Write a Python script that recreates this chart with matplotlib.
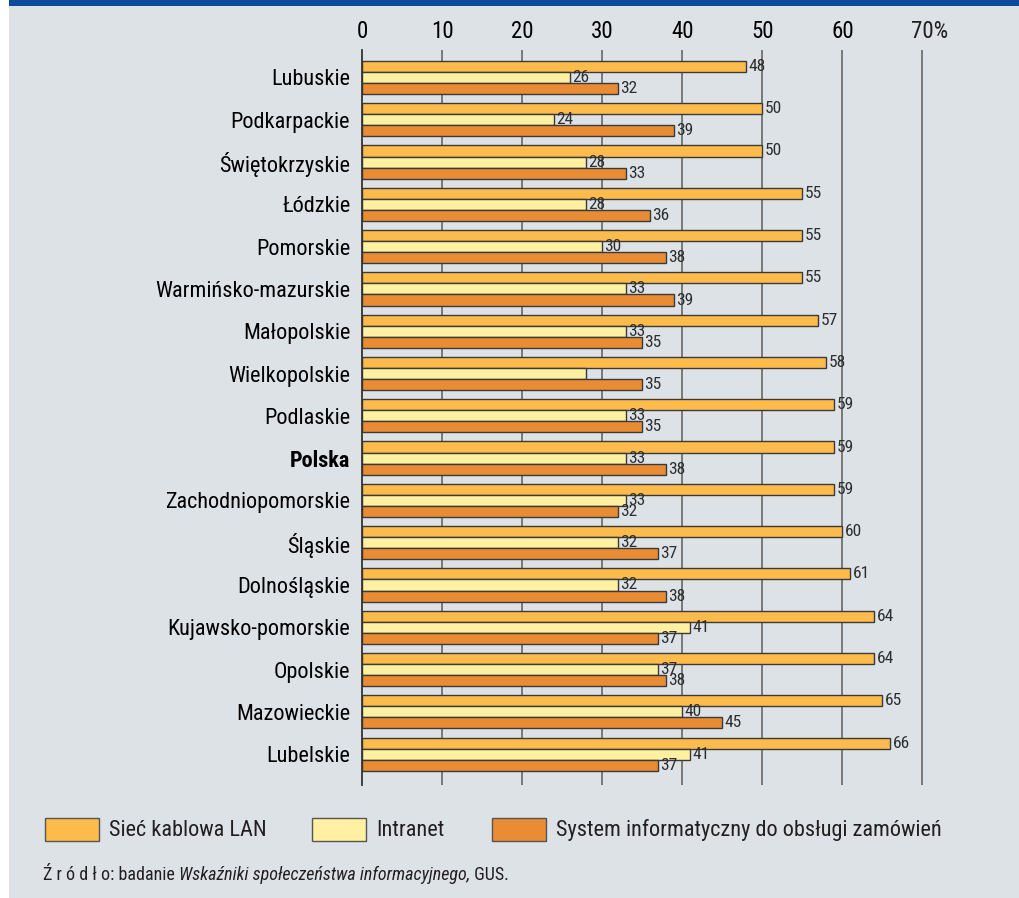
import matplotlib
matplotlib.use('Agg')
import matplotlib.pyplot as plt
import matplotlib.transforms as mtransforms
from matplotlib.patches import Rectangle
from matplotlib import font_manager

# data
regions = ['Lubuskie', 'Podkarpackie', 'Świętokrzyskie', 'Łódzkie', 'Pomorskie',
           'Warmińsko-mazurskie', 'Małopolskie', 'Wielkopolskie', 'Podlaskie', 'Polska',
           'Zachodniopomorskie', 'Śląskie', 'Dolnośląskie', 'Kujawsko-pomorskie',
           'Opolskie', 'Mazowieckie', 'Lubelskie']
lan = [48, 50, 50, 55, 55, 55, 57, 58, 59, 59, 59, 60, 61, 64, 64, 65, 66]
intranet = [26, 24, 28, 28, 30, 33, 33, 28, 33, 33, 33, 32, 32, 41, 37, 40, 41]
system = [32, 39, 33, 36, 38, 39, 35, 35, 35, 38, 32, 37, 38, 37, 38, 45, 37]
intranet_labels = [str(v) for v in intranet]
intranet_labels[7] = ''   # no label printed for Wielkopolskie
series_names = ['Sieć kablowa LAN', 'Intranet', 'System informatyczny do obsługi zamówień']
xticks = [0, 10, 20, 30, 40, 50, 60, 70]
xticklabels = ['0', '10', '20', '30', '40', '50', '60', '70%']

colors = ['#fdbb4b', '#fff0a2', '#e98c33']
bg = '#dde2e7'

# look for a condensed face (the original uses a narrow grotesque)
fam, stretch = 'Liberation Sans', 'normal'
found = {}
for f in font_manager.fontManager.ttflist:
    fn = f.fname.lower()
    if 'condensed' in fn or 'narrow' in fn or str(f.stretch) in ('condensed', 'semi-condensed'):
        found.setdefault(f.name, f.stretch)
for pref in ['Roboto Condensed', 'Liberation Sans Narrow', 'DejaVu Sans', 'Open Sans Condensed',
             'Open Sans', 'Noto Sans']:
    if pref in found:
        fam, stretch = pref, found[pref]
        break
else:
    if found:
        fam, stretch = list(found.items())[0]
plt.rcParams['font.family'] = [fam, 'DejaVu Sans']
plt.rcParams['font.stretch'] = stretch
plt.rcParams['text.color'] = '#231f20'

W, H = 1019, 898
fig = plt.figure(figsize=(W / 100, H / 100), dpi=100)
fig.patch.set_facecolor('white')
# grey panel and blue band
fig.patches.append(Rectangle((9 / W, 0), 1 - 9 / W, 1 - 6 / H, transform=fig.transFigure,
                             facecolor=bg, edgecolor='none', zorder=-10))
fig.patches.append(Rectangle((9 / W, 1 - 6 / H), 1 - 9 / W, 6 / H, transform=fig.transFigure,
                             facecolor='#0d4a9b', edgecolor='none', zorder=-10))

ax = fig.add_axes([362 / W, 1 - 785 / H, 562 / W, 735 / H])
ax.set_facecolor('none')

bh = 0.262
ys = list(range(len(regions)))
for k, (vals, labs) in enumerate([(lan, [str(v) for v in lan]), (intranet, intranet_labels),
                                  (system, [str(v) for v in system])]):
    pos = [y + (k - 1) * bh for y in ys]
    ax.barh(pos, vals, height=bh, color=colors[k], edgecolor='#3a3a3a', linewidth=1.0, zorder=3)
    for p, v, t in zip(pos, vals, labs):
        ax.text(v + 0.3, p, t, fontsize=12.5, ha='left', va='center', color='#2e2e2e', zorder=4)

ax.set_ylim(len(regions) - 1 + 0.73, -0.65)
ax.set_xlim(0, 70.2)
ax.set_yticks(ys)
ax.set_yticklabels(regions, fontsize=16)
for lab in ax.get_yticklabels():
    if lab.get_text() == 'Polska':
        lab.set_fontweight('bold')
ax.xaxis.tick_top()
ax.set_xticks(xticks[:-1])
ax.set_xticklabels(xticklabels[:-1], fontsize=16.5)
ax.tick_params(axis='y', length=0, pad=8.5)
ax.tick_params(axis='x', length=0, pad=5)
for x in xticks[1:]:
    ax.axvline(x, color='#6f6f6f', linewidth=1.3, zorder=1)
for s in ['top', 'right', 'bottom']:
    ax.spines[s].set_visible(False)
ax.spines['left'].set_color('#333333')
ax.spines['left'].set_linewidth(1.3)
ax.spines['left'].set_zorder(5)

fig.canvas.draw()
r = fig.canvas.get_renderer()

# last tick label: "70" is centred on its line, the % hangs to the right
bb = ax.get_xticklabels()[-1].get_window_extent(renderer=r)   # "60", same width as "70"
shift = mtransforms.offset_copy(ax.transData, fig=fig, x=-bb.width / 2, y=0, units='dots')
trans = mtransforms.blended_transform_factory(shift, fig.transFigure)
ax.text(xticks[-1], (bb.y0 + bb.y1) / 2 / H, xticklabels[-1], fontsize=16.5,
        ha='left', va='center', transform=trans)

# legend
leg_x = [45, 312, 492]
for xp, c, name in zip(leg_x, colors, series_names):
    fig.patches.append(Rectangle((xp / W, 1 - 841 / H), 54 / W, 23 / H, transform=fig.transFigure,
                                 facecolor=c, edgecolor='#555555', linewidth=1.0))
    fig.text((xp + 64) / W, 1 - 830 / H, name, fontsize=16, va='center', ha='left')

# source line
parts = [('Ź r ó d ł o: badanie ', 'normal'), ('Wskaźniki społeczeństwa informacyjnego,', 'italic'),
         (' GUS.', 'normal')]
x0 = 43
for txt, st in parts:
    t = fig.text(x0 / W, 1 - 875 / H, txt, fontsize=13, style=st, va='center', ha='left')
    x0 += t.get_window_extent(renderer=r).width

fig.savefig('out.png', dpi=100, facecolor=fig.get_facecolor())
